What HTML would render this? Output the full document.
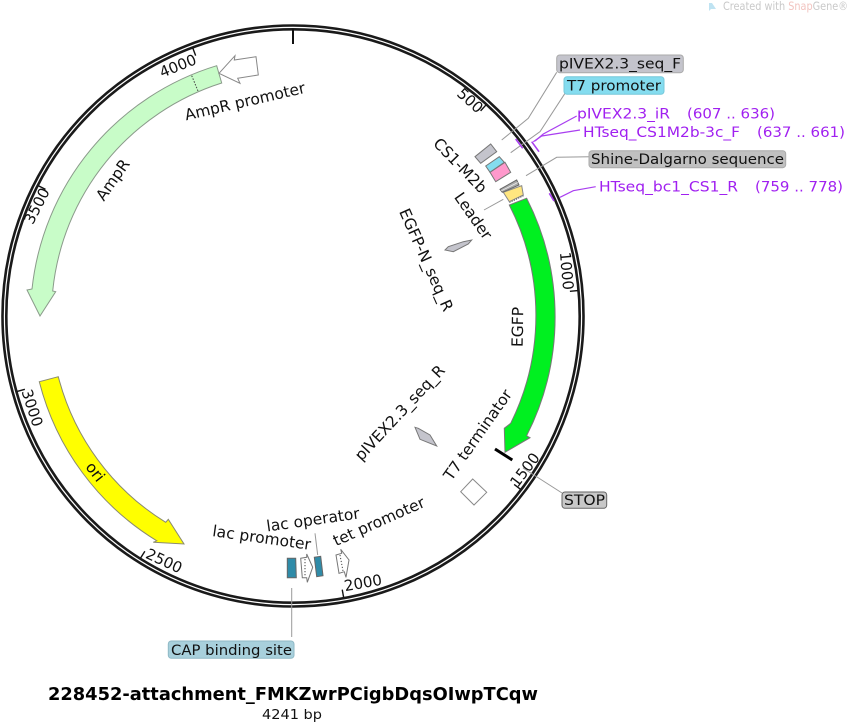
<!DOCTYPE html>
<html><head><meta charset="utf-8"><style>
html,body{margin:0;padding:0;background:#fff;width:848px;height:722px;overflow:hidden}
svg{display:block}
text{font-family:"DejaVu Sans","Liberation Sans",sans-serif;font-size:14px;fill:#111}
.n{text-anchor:middle;dominant-baseline:central;font-size:15px}
.f{text-anchor:middle;dominant-baseline:central;font-size:15.5px}
.p{fill:#a020f0}
.g{stroke:#999;stroke-width:1;fill:none}
.v{stroke:#a93ff0;stroke-width:1.2;fill:none}
.t{stroke:#111;stroke-width:1.4}
</style></head><body>
<svg width="848" height="722" viewBox="0 0 848 722" xmlns="http://www.w3.org/2000/svg">
<path d="M709,3 L712,3 L716,9 L711,9 L709,11 Z" fill="#bfe3f2"/>
<text x="723" y="10" style="font-size:11.5px;fill:#c9c9c9" textLength="125" lengthAdjust="spacingAndGlyphs">Created with <tspan style="fill:#f2c4c0">Snap</tspan>Gene®</text>

<circle cx="293" cy="316" r="288.6" fill="none" stroke="#1a1a1a" stroke-width="6.4"/>
<circle cx="293" cy="316" r="288.6" fill="none" stroke="#fff" stroke-width="1.2"/>

<line x1="293" y1="29" x2="293" y2="44" stroke="#111" stroke-width="2"/>
<g class="t">
<line x1="293" y1="30" x2="293" y2="38" transform="rotate(42.44 293 316)"/>
<line x1="293" y1="30" x2="293" y2="38" transform="rotate(84.9 293 316)"/>
<line x1="293" y1="30" x2="293" y2="38" transform="rotate(127.3 293 316)"/>
<line x1="293" y1="30" x2="293" y2="38" transform="rotate(169.8 293 316)"/>
<line x1="293" y1="30" x2="293" y2="38" transform="rotate(212.2 293 316)"/>
<line x1="293" y1="30" x2="293" y2="38" transform="rotate(254.7 293 316)"/>
<line x1="293" y1="30" x2="293" y2="38" transform="rotate(297.1 293 316)"/>
<line x1="293" y1="30" x2="293" y2="38" transform="rotate(339.5 293 316)"/>
</g>
<text class="n" transform="translate(470,100.7) rotate(42)">500</text>
<text class="n" transform="translate(566.5,271) rotate(85)">1000</text>
<text class="n" transform="translate(525,470) rotate(-53)">1500</text>
<text class="n" transform="translate(363,583) rotate(-10)">2000</text>
<text class="n" transform="translate(164,561) rotate(25)">2500</text>
<text class="n" transform="translate(32,408) rotate(72)">3000</text>
<text class="n" transform="translate(37,206) rotate(-63)">3500</text>
<text class="n" transform="translate(178,66) rotate(-22)">4000</text>

<!-- AmpR -->
<path d="M216.7,65.7 A262.6 262.6 0 0 0 32,289 L27,290 L40,316 L55.7,291.7 L52.7,291 A244 244 0 0 1 221.7,83 Z" fill="#c8fcc8" stroke="#8a9a8a" stroke-width="1"/>
<line x1="191.7" y1="75.7" x2="198.3" y2="91.7" stroke="#444" stroke-width="1" stroke-dasharray="1.5 1.5"/>
<path d="M219,73.3 L235,55.7 L234.3,60 L256,56.7 L258.3,75 L237.7,78.3 L240,83.3 Z" fill="#fff" stroke="#888" stroke-width="1"/>
<text class="f" transform="translate(245,101.7) rotate(-13)">AmpR promoter</text>
<text class="f" transform="translate(113,180) rotate(-55)">AmpR</text>

<!-- ori -->
<path d="M39.3,381.7 A262 262 0 0 0 156.8,540.8 L153.3,542.3 L184,544 L168.3,519.3 L165.7,522.3 A242 242 0 0 1 58.3,376.7 Z" fill="#ffff00" stroke="#8a8a70" stroke-width="1"/>
<text class="f" transform="translate(95,472) rotate(52)">ori</text>

<!-- EGFP -->
<path d="M526.7,198.3 A262 262 0 0 1 526.6,435.8 L530,437.7 L505,452.3 L504.3,428.3 L510.7,423.3 A243 243 0 0 0 509.3,205 Z" fill="#00f020" stroke="#777" stroke-width="1"/>
<text class="f" transform="translate(518,327) rotate(-89)">EGFP</text>
<line x1="509.3" y1="202" x2="523.3" y2="195.5" stroke="#333" stroke-width="1.6" stroke-dasharray="1.2 1.2"/>
<path d="M503.3,192.3 L521.7,185.7 L523.3,195 L509.3,201.7 Z" fill="#ffe680" stroke="#888" stroke-width="1"/>
<path d="M500,189.3 L516.7,180 L519,185 L502.3,192.3 Z" fill="#aaa" stroke="#666" stroke-width="1"/>
<line x1="501.2" y1="190.8" x2="517.8" y2="182.5" stroke="#eee" stroke-width="0.8"/>

<!-- small features near top right -->
<path d="M475,156.7 L490.7,144 L496.7,151.7 L480.7,163.3 Z" fill="#c4c4cc" stroke="#777" stroke-width="1"/>
<path d="M485.7,166 L499.3,156.7 L504.3,162.3 L490,172.3 Z" fill="#84dcef" stroke="#777" stroke-width="1"/>
<path d="M490,172.3 L505,162.3 L510.7,172.3 L495.7,181.7 Z" fill="#ff99cc" stroke="#777" stroke-width="1"/>

<polyline class="g" points="501.7,140 528.3,118.3 556.7,72.3"/>
<polyline class="g" points="510.7,152.7 540,131.7 565,93.3"/>
<polyline class="g" points="526,175.7 556.7,157.3 590,156.7"/>
<line class="g" x1="484" y1="210" x2="503.3" y2="199.3"/>

<line class="v" x1="515.7" y1="139" x2="522.7" y2="148.3" style="stroke-width:1.6"/>
<line class="v" x1="531.7" y1="141.7" x2="539" y2="151.7" style="stroke-width:1.6"/>
<line class="v" x1="549.3" y1="193.3" x2="554" y2="201" style="stroke-width:1.6"/>
<polyline class="v" points="576.7,116 543.3,134 535,141"/>
<polyline class="v" points="580,130 541.7,136 533.3,141.7"/>
<polyline class="v" points="595.7,186.7 573.3,190.7 560,197.3"/>

<rect x="556.7" y="55" width="126.6" height="17.7" rx="3" fill="#c4c4cc" stroke="#aaa"/>
<text x="559" y="68.5" textLength="122" lengthAdjust="spacingAndGlyphs">pIVEX2.3_seq_F</text>
<rect x="564" y="76.7" width="100" height="17.6" rx="3" fill="#84dcef" stroke="#77c8da"/>
<text x="567" y="90.5" textLength="94" lengthAdjust="spacingAndGlyphs">T7 promoter</text>
<text class="p" x="577" y="118.5" textLength="93" lengthAdjust="spacingAndGlyphs">pIVEX2.3_iR</text>
<text class="p" x="687" y="118.5" textLength="88" lengthAdjust="spacingAndGlyphs">(607 .. 636)</text>
<text class="p" x="583" y="137" textLength="157" lengthAdjust="spacingAndGlyphs">HTseq_CS1M2b-3c_F</text>
<text class="p" x="757" y="137" textLength="88" lengthAdjust="spacingAndGlyphs">(637 .. 661)</text>
<rect x="589" y="150.7" width="196.7" height="17" rx="3" fill="#c0c0c0" stroke="#aaa"/>
<text x="591" y="164" textLength="193" lengthAdjust="spacingAndGlyphs">Shine-Dalgarno sequence</text>
<text class="p" x="599" y="191.5" textLength="139" lengthAdjust="spacingAndGlyphs">HTseq_bc1_CS1_R</text>
<text class="p" x="755" y="191.5" textLength="88" lengthAdjust="spacingAndGlyphs">(759 .. 778)</text>

<text class="f" transform="translate(460,165.7) rotate(46)">CS1-M2b</text>
<text class="f" transform="translate(473,216) rotate(55)">Leader</text>
<text class="f" transform="translate(426,260) rotate(66)">EGFP-N_seq_R</text>
<path d="M445,250 L448.3,246.7 L463.3,241.7 L471.7,240 L468.3,244 L453.3,251.7 Z" fill="#c4c4cc" stroke="#777" stroke-width="1"/>
<text class="f" transform="translate(400,413) rotate(-47)">pIVEX2.3_seq_R</text>
<path d="M415,427.3 L418.3,428.3 L430,435 L436.7,446 L430,443.3 L420,439.3 Z" fill="#c4c4cc" stroke="#777" stroke-width="1"/>

<line x1="495" y1="449" x2="512.3" y2="460" stroke="#000" stroke-width="3"/>
<text class="f" transform="translate(478,435) rotate(-55)">T7 terminator</text>
<path d="M472.7,479 L486.7,492.3 L474,505 L460.7,491.7 Z" fill="#fff" stroke="#888" stroke-width="1"/>
<line class="g" x1="523" y1="468" x2="562" y2="493"/>
<rect x="562" y="492" width="44.7" height="16.3" rx="3" fill="#c8c8c8" stroke="#666"/>
<text x="564" y="505" textLength="41" lengthAdjust="spacingAndGlyphs">STOP</text>

<!-- lac / tet -->
<path d="M287.3,558.3 L295.7,558.3 L296.3,577.7 L287.3,577.7 Z" fill="#2f8ba8" stroke="#666" stroke-width="1"/>
<path d="M314.3,557.3 L320.7,556.3 L323,575.7 L316.7,576.7 Z" fill="#2f8ba8" stroke="#666" stroke-width="1"/>
<path d="M300.7,558.3 L306.7,557.3 L306.7,554 L312.7,567.3 L307.3,582.3 L306.7,577.7 L302.3,577.7 Z" fill="#fff" stroke="#777" stroke-width="1"/>
<line x1="305" y1="559" x2="305" y2="577" stroke="#444" stroke-width="1" stroke-dasharray="1.2 1.8"/>
<path d="M336,555 L341.7,553.3 L340.7,549.3 L349,560 L346,577.3 L344.3,571.7 L339,573.3 Z" fill="#fff" stroke="#777" stroke-width="1"/>
<line x1="340" y1="555" x2="343" y2="571" stroke="#444" stroke-width="1" stroke-dasharray="1.2 1.8"/>
<line class="g" x1="315" y1="533.3" x2="317.7" y2="555"/>
<text class="f" transform="translate(261.7,538) rotate(8)">lac promoter</text>
<text class="f" transform="translate(313,520) rotate(-8)">lac operator</text>
<text class="f" transform="translate(379,521.7) rotate(-24)">tet promoter</text>

<line class="g" x1="291.7" y1="588" x2="291.7" y2="637"/>
<rect x="168.3" y="641" width="125.7" height="17.3" rx="3" fill="#a8d0dc" stroke="#8fb9c6"/>
<text x="171" y="655" textLength="121" lengthAdjust="spacingAndGlyphs">CAP binding site</text>

<text x="48" y="700" style="font-size:18px;font-weight:bold;fill:#000" textLength="490" lengthAdjust="spacingAndGlyphs">228452-attachment_FMKZwrPCigbDqsOIwpTCqw</text>
<text x="262" y="719" style="font-size:13px" textLength="60" lengthAdjust="spacingAndGlyphs">4241 bp</text>
</svg>
</body></html>
